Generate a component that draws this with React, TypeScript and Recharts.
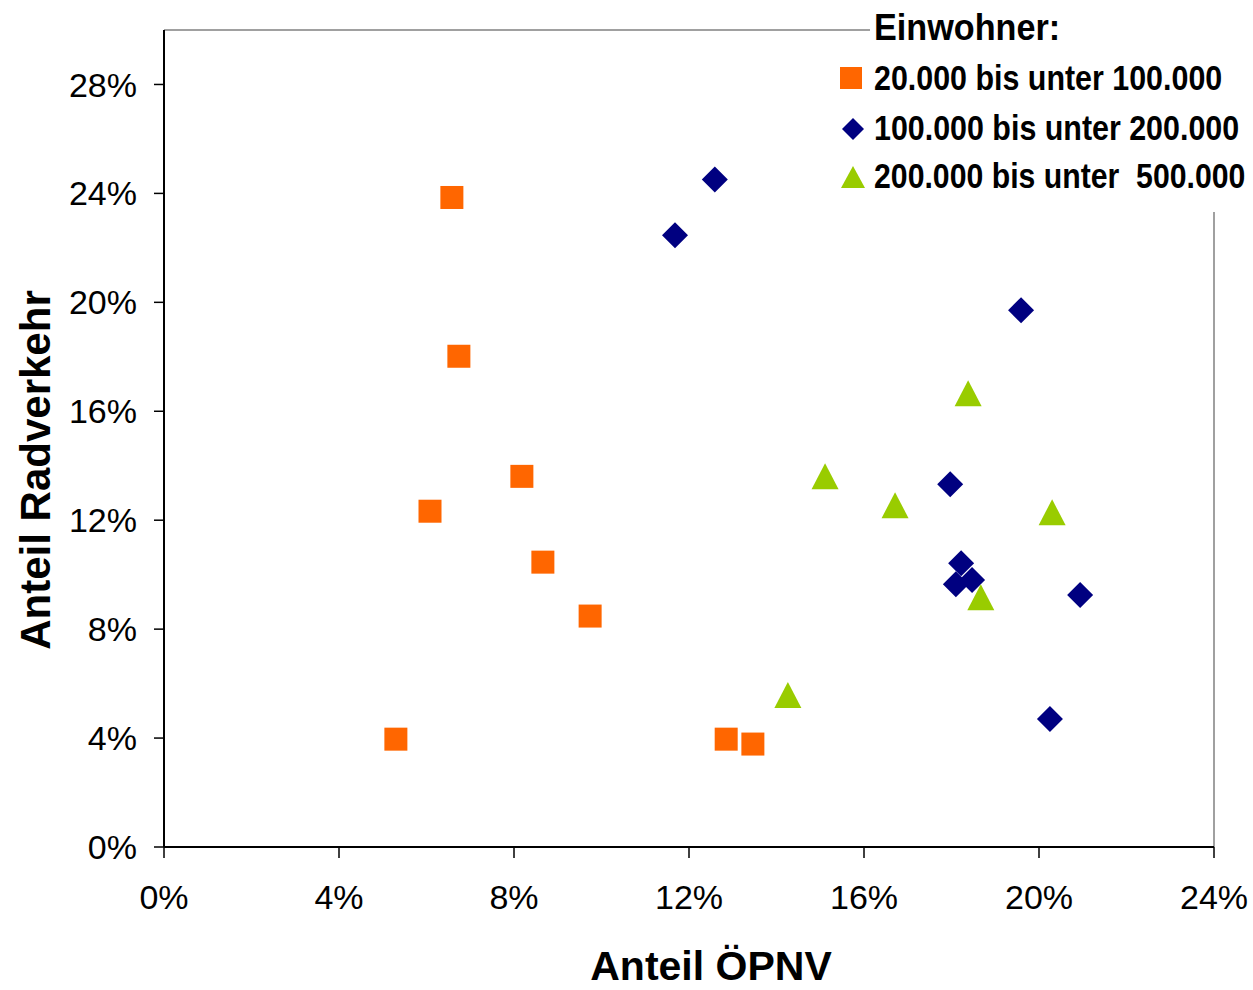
import React from 'react';
import {
  ScatterChart,
  Scatter,
  XAxis,
  YAxis,
  ReferenceLine,
  Label,
} from 'recharts';

// Einwohner 20.000 bis unter 100.000
const smallX = [6.58, 6.74, 8.18, 6.08, 8.66, 9.74, 5.3, 12.85, 13.46];
const smallY = [23.85, 18.02, 13.61, 12.33, 10.46, 8.48, 3.96, 3.96, 3.78];

// Einwohner 100.000 bis unter 200.000
const midX = [12.59, 11.68, 19.59, 17.97, 18.22, 18.1, 18.47, 20.94, 20.25];
const midY = [24.51, 22.46, 19.71, 13.32, 10.42, 9.65, 9.8, 9.25, 4.7];

// Einwohner 200.000 bis unter 500.000
const largeX = [18.38, 15.11, 16.71, 20.3, 18.67, 14.26];
const largeY = [16.66, 13.61, 12.55, 12.29, 9.17, 5.58];

const xTicks = [0, 4, 8, 12, 16, 20, 24];
const yTicks = [0, 4, 8, 12, 16, 20, 24, 28];

const legendTitle = 'Einwohner:';
const legendLabels = [
  '20.000 bis unter 100.000',
  '100.000 bis unter 200.000',
  '200.000 bis unter  500.000',
];

const ORANGE = '#FF6600';
const NAVY = '#000080';
const GREEN = '#99CC00';

const toPoints = (xs: number[], ys: number[]) => xs.map((x, i) => ({ x, y: ys[i] }));

const smallData = toPoints(smallX, smallY);
const midData = toPoints(midX, midY);
const largeData = toPoints(largeX, largeY);

const FONT = '"Liberation Sans", Arial, sans-serif';

const SquareShape = (props: any) => {
  const { cx, cy } = props;
  const s = 23;
  return <rect x={cx - s / 2} y={cy - s / 2} width={s} height={s} fill={ORANGE} />;
};

const DiamondShape = (props: any) => {
  const { cx, cy } = props;
  const r = 13;
  return (
    <polygon
      points={`${cx},${cy - r} ${cx + r},${cy} ${cx},${cy + r} ${cx - r},${cy}`}
      fill={NAVY}
    />
  );
};

const TriangleShape = (props: any) => {
  const { cx, cy } = props;
  const w = 27;
  const h = 26;
  return (
    <polygon
      points={`${cx},${cy - h / 2} ${cx + w / 2},${cy + h / 2} ${cx - w / 2},${cy + h / 2}`}
      fill={GREEN}
    />
  );
};

// the original legend uses a condensed bold face, so squeeze it horizontally
const LegendText = ({ x, y, sx, children }: { x: number; y: number; sx: number; children: string }) => (
  <g transform={`translate(${x} ${y}) scale(${sx} 1)`}>
    <text
      x={0}
      y={0}
      fontFamily={FONT}
      fontWeight="bold"
      fontSize={36}
      fill="#000"
      style={{ whiteSpace: 'pre' }}
    >
      {children}
    </text>
  </g>
);

const LegendBox = () => (
  <div
    style={{
      position: 'absolute',
      left: 830,
      top: 0,
      width: 423,
      height: 212,
      pointerEvents: 'none',
    }}
  >
    <div
      style={{
        position: 'absolute',
        left: 40,
        top: 0,
        width: 383,
        height: 212,
        background: '#fff',
      }}
    />
    <svg width={423} height={212} style={{ position: 'absolute', left: 0, top: 0 }}>
      <LegendText x={44} y={40} sx={0.95}>{legendTitle}</LegendText>
      <rect x={10} y={67} width={22} height={22} fill={ORANGE} />
      <LegendText x={44} y={90} sx={0.845}>{legendLabels[0]}</LegendText>
      <polygon points="23,118 34,129 23,140 12,129" fill={NAVY} />
      <LegendText x={44} y={140} sx={0.845}>{legendLabels[1]}</LegendText>
      <polygon points="23,166 35,188 11,188" fill={GREEN} />
      <LegendText x={44} y={188} sx={0.84}>{legendLabels[2]}</LegendText>
    </svg>
  </div>
);

export default function App() {
  return (
    <div
      style={{
        position: 'absolute',
        left: 0,
        top: 0,
        width: 1253,
        height: 990,
        background: '#fff',
        overflow: 'hidden',
      }}
    >
      <ScatterChart
        width={1253}
        height={990}
        margin={{ top: 30, right: 39, bottom: 63, left: 64 }}
      >
        <XAxis
          type="number"
          dataKey="x"
          domain={[0, 24]}
          ticks={xTicks}
          tickFormatter={(v: number) => `${v}%`}
          axisLine={{ stroke: '#000', strokeWidth: 2 }}
          tickLine={{ stroke: '#000', strokeWidth: 1.5 }}
          tickSize={11}
          tickMargin={27}
          tick={{ fill: '#000', fontSize: 34, fontFamily: FONT }}
          height={80}
          interval={0}
        >
          <Label
            content={() => (
              <text
                x={711}
                y={980}
                textAnchor="middle"
                fontFamily={FONT}
                fontWeight="bold"
                fontSize={41}
                fill="#000"
              >
                Anteil ÖPNV
              </text>
            )}
          />
        </XAxis>
        <YAxis
          type="number"
          dataKey="y"
          domain={[0, 30]}
          ticks={yTicks}
          tickFormatter={(v: number) => `${v}%`}
          axisLine={{ stroke: '#000', strokeWidth: 2 }}
          tickLine={{ stroke: '#000', strokeWidth: 1.5 }}
          tickSize={10}
          tickMargin={17}
          tick={{ fill: '#000', fontSize: 34, fontFamily: FONT }}
          width={100}
          interval={0}
        >
          <Label
            content={() => (
              <text
                x={50}
                y={470}
                textAnchor="middle"
                transform="rotate(-90 50 470)"
                fontFamily={FONT}
                fontWeight="bold"
                fontSize={42}
                fill="#000"
              >
                Anteil Radverkehr
              </text>
            )}
          />
        </YAxis>
        <ReferenceLine y={30} stroke="#808080" strokeWidth={1.5} />
        <ReferenceLine x={24} stroke="#808080" strokeWidth={1.5} />
        <Scatter
          name={legendLabels[0]}
          data={smallData}
          shape={SquareShape}
          isAnimationActive={false}
        />
        <Scatter
          name={legendLabels[1]}
          data={midData}
          shape={DiamondShape}
          isAnimationActive={false}
        />
        <Scatter
          name={legendLabels[2]}
          data={largeData}
          shape={TriangleShape}
          isAnimationActive={false}
        />
      </ScatterChart>
      <LegendBox />
    </div>
  );
}
